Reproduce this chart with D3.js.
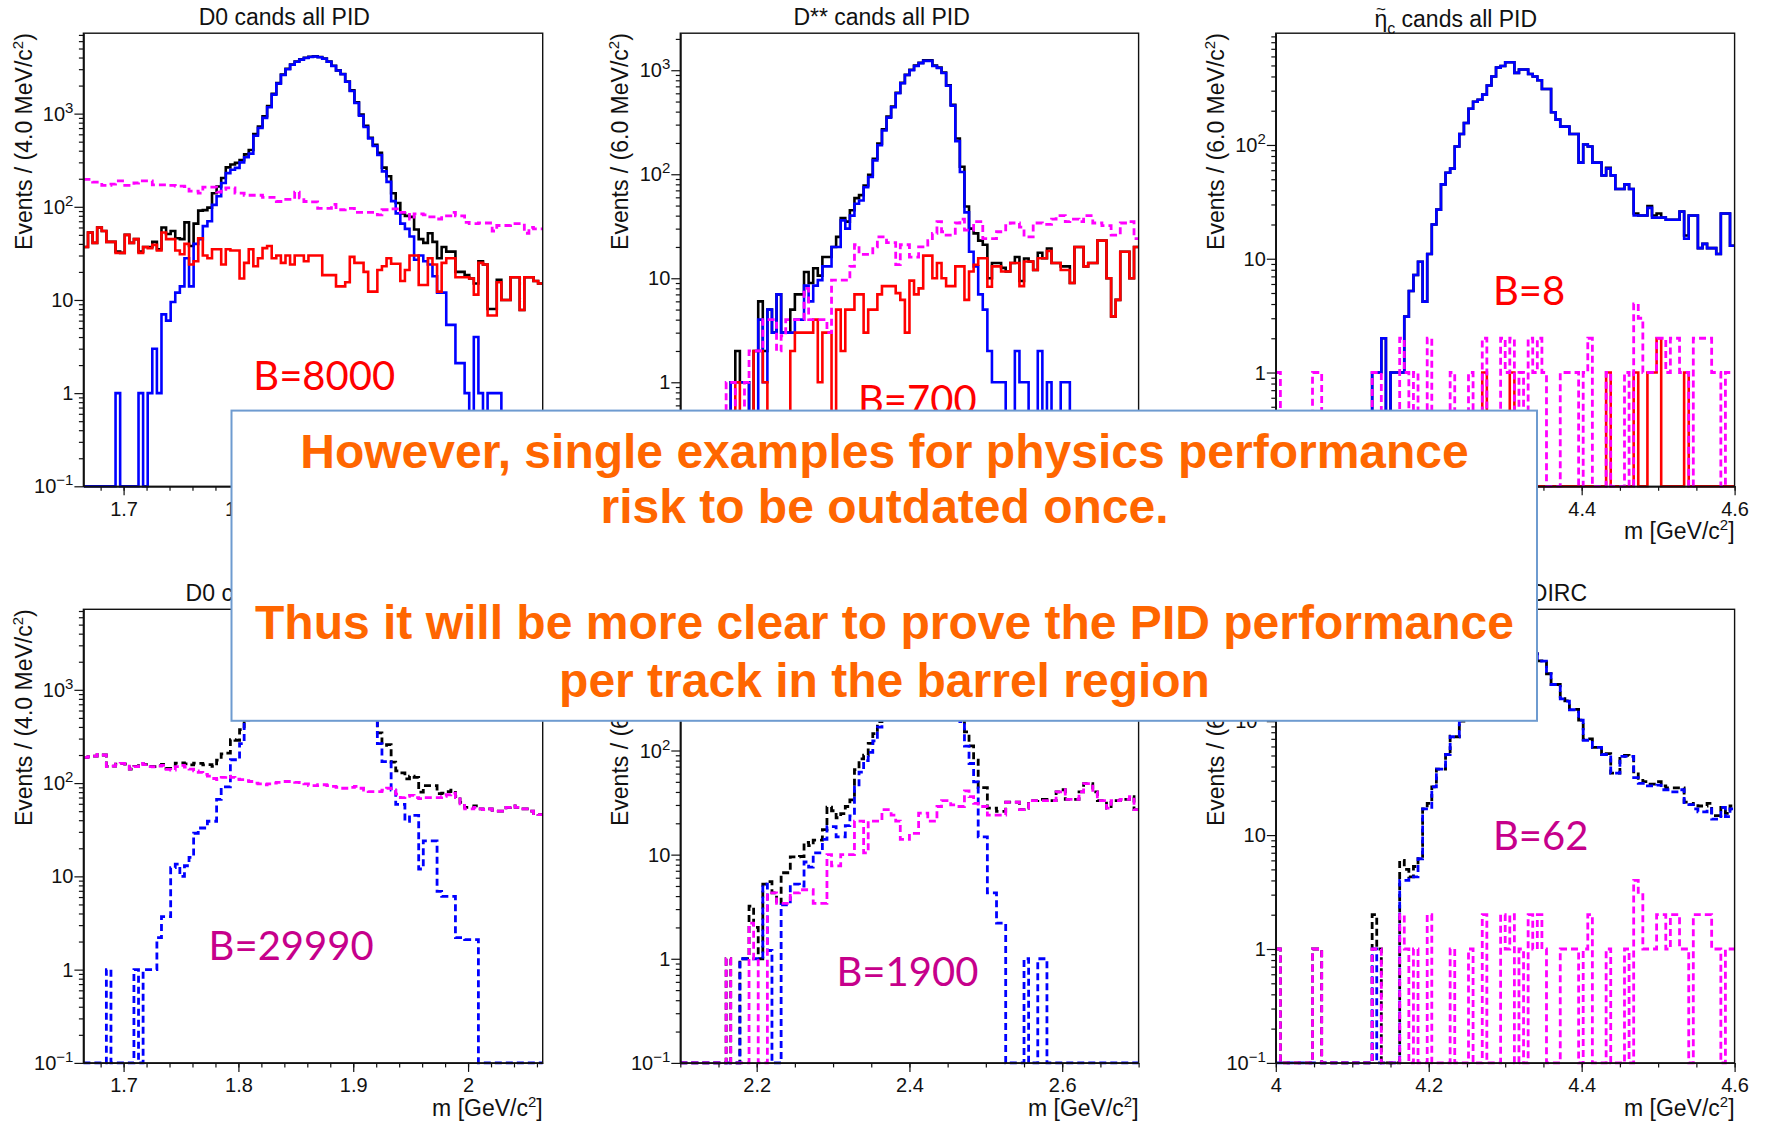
<!DOCTYPE html>
<html><head><meta charset="utf-8">
<script src="https://cdn.jsdelivr.net/npm/d3@7"></script>
<style>body{margin:0;background:#fff}svg{display:block}</style>
</head><body>
<svg id="c" width="1765" height="1124"></svg>
<script>
// ---------------- DATA (100 bins per histogram) ----------------
// D0, all PID
const d0AllTotal = [37,53,41,60,55,42,42,33,32,50, 41,45,33,37,37,42,35,60,51,55, 46,45,68,38,66,91,92,98,140,165, 204,265,284,296,317,365,407,602,728,936, 1208,1628,2130,2625,3030,3374,3630,3830,3976,4080, 4130,4060,3898,3618,3268,2914,2664,2215,1779,1325, 975,740,552,462,381,263,213,140,110,85, 80,78,57,45,41,52,42,28,37,33, 33,20,20,18.5,17,15,26,24,8,8, 16.5,10,10,17.5,17.5,7.8,17.5,17.5,16,15];
const d0AllSignal = [0,0,0,0,0,0,0,1,0,0, 0,0,1,0,1,3,1,7,6,9.5, 12,14,28,14,40,45,62,70,105,130, 180,230,250,262,300,340,372,579,700,900, 1170,1600,2100,2600,3000,3350,3600,3800,3950,4050, 4100,4030,3880,3600,3250,2900,2650,2200,1750,1300, 950,720,540,450,360,240,185,115,85,66, 58,48,27,30,26,24,18,12,12,5.4, 5.4,2.1,2.1,1,0,4,1,0,1,1, 1,0,0,0,0,0,0,0,0,0];
const d0AllPidBkg = [37,53,41,60,55,42,42,32,32,50, 41,45,32,37,36,39,34,53,45,45, 34,31,40,24,26,46,30,28,35,35, 24,35,34,34,17,25,35,23,28,36, 38,28,30,25,30,24,30,30,26,30, 30,30,18.5,18.5,18.5,14,14,15.5,29,25, 25,20,12.3,12.3,21,23,28,24.5,24.5,16, 21,30,30,14.5,14.5,28,24,12.3,25,28, 28,17.5,17.5,17.5,17,11.4,25,24,6.8,6.8, 15.5,10,10,17.5,17.5,7.8,17.5,17.5,16,15];
const d0AllNoPidBkg = [197,197,184,184,170,170,175,190,190,170, 170,180,190,190,190,172,172,172,170,170, 167,167,165,147,147,140,163,163,163,144, 154,160,160,140,140,133,133,133,133,126, 126,126,114,120,120,120,144,125,114,113, 113,96,96,96,106,93,93,96,96,87, 87,87,87,87,82,93,93,95,95,87, 87,74,84,84,82,78,78,74,80,80, 87,80,80,68,66,66,67,67,67,55, 63,63,63,66,66,66,52,60,58,58];
// D0, barrel DIRC
const d0DircTotal = [189,192,195,203,200,151,152,160,163,160, 141,151,163,159,151,150,154,159,144,150, 164,165,161,157,164,163,157,158,151,176, 206,210,293,288,374,579,664,750,898,1096, 1348,1750,2252,2754,3154,3504,3752,3951,4098,4194, 4244,4176,3996,3744,3392,3040,2738,2288,1840,1392, 1038,834,681,541,346,254,258,168,135,129, 111,119,115,80,94,94,94,77,78,81, 84,72,62,55,55,57,53,52,53,51, 50,50,55,57,55,53,53,50,47,46];
const d0DircSignal = [0,0,0,0,0,1,0,0,0,0, 0,1,0,1,1,1,2.2,3.7,3.7,12.4, 13.5,10,13,16,29,33,33,39,39,67, 91,91,178,178,265,473,560,650,800,1000, 1250,1650,2150,2650,3050,3400,3650,3850,4000,4100, 4150,4080,3900,3650,3300,2950,2650,2200,1750,1300, 950,750,600,460,265,170,170,84,59,59, 39,45,45,12,24,24,24,6.9,6.1,6.1, 6.1,2.2,2.2,2.1,2.1,2.1,0,0,0,0, 0,0,0,0,0,0,0,0,0,0];
const d0DircNoPidBkg = [189,192,195,203,200,150,152,160,163,160, 141,150,163,158,150,149,152,155,140,138, 150,155,148,141,135,130,124,119,112,109, 115,119,115,110,109,106,104,100,98,96, 98,100,102,104,104,104,102,101,98,94, 94,96,96,94,92,90,88,88,90,92, 88,84,81,81,81,84,88,84,76,70, 72,74,70,68,70,70,70,70,72,75, 78,70,60,53,53,55,53,52,53,51, 50,50,55,57,55,53,53,50,47,46];
// D**, all PID
const dssAllTotal = [0,0,0,0,0,0,0,0,0,0, 0,1,2,1,1,0,2,6,2,5, 3,7,3,3,5,7,7,11.5,9,12.5, 10.6,16,16,20,25,38,35,45,59,63, 78,99,141,197,271,358,448,607,756,903, 1010,1107,1178,1247,1247,1110,1064,950,718,465, 221,118,49,30,27,23,21,10,14,14, 12.6,11.6,14,16,9.4,15.5,14.5,12,17.6,15.6, 19.3,14,14,13,13,9,20,20,13,14, 14,23,23,10,4.3,6.2,18,18,10,20];
const dssAllSignal = [0,0,0,0,0,0,0,0,0,0, 0,1,1,1,1,0,0,4,1,5, 3,7,3,3,3,4,4,8.5,6,8.5, 9.6,13,13,20,20,36,30,40,52,56, 75,94,136,190,263,350,440,600,750,900, 1000,1100,1170,1230,1230,1100,1050,940,710,457, 208,105,43,18,13,7,5,2,1,1, 1,0,0,2,1,1,0,0,2,0, 1,0,0,1,1,0,0,0,0,0, 0,0,0,0,0,0,0,0,0,0];
const dssAllPidBkg = [0,0,0,0,0,0,0,0,0,0, 0,0,1,0,0,0,2,2,1,0, 0,0,0,0,2,3,3,3,3,4, 1,3,3,0,5,2,5,5,7,7, 3,5,5,7,8.4,8.4,8.4,7.2,6.2,3, 9.5,7,8,16.5,16.5,10,14,10,8.4,8.4, 13,13,6.2,11.6,13.5,15.6,15.6,8.3,13,13, 11.6,11.6,14,14,8.4,14.5,14.5,12,15.6,15.6, 18.3,14,14,12,12,9,20,20,13,14, 14,23,23,10,4.3,6.2,18,18,10,20];
const dssAllNoPidBkg = [0,0,0,0,0,0,0,0,0,0, 1,1,0,0,1,2,2,2,4,4, 4,2,2.8,4,4,4,4,8,4,4, 4,4,3,9.6,9.6,9.6,9.6,13,21,17, 17,17,20,25,25,22,22,13.5,21,21, 16,16,20,20,23,27,35,28,26,26, 34,37,29,29,35,35,24,24,24,28, 28,32,34,34,31,25,25,34,34,33, 33,37,40,40,35,37,37,35,40,40, 34,34,32,32,26,26,34,34,35,24];
// D**, barrel DIRC
const dssDircTotal = [0,0,0,0,0,0,0,0,0,0, 1,0,0,1,1,3.2,2,1,5.2,5.5, 4.3,3.4,6.7,6.7,9.5,9.5,9.6,13.1,12.2,13.8, 13.8,17.4,28.6,26.4,22.6,24.8,29,33.6,65.5,83, 90,117,145,189,277,367,464,621,764,914, 1016,1116,1195,1255,1251,1121,1079,973,743,487, 329,219,151,111,81,44,44,28,28,26, 26,32,32,32,27,28,33,33,34,34, 33,33,40,42,34,34,34,40,48,48, 40,33,33,28,33,33,34,34,36,27];
const dssDircSignal = [0,0,0,0,0,0,0,0,0,0, 0,0,0,1,1,1,1,1,5.2,1.2, 0,0,3.3,3.3,5.2,5.2,5,8.5,7.6,10.4, 10.4,14,18.6,18.6,14.8,14.8,19,23.6,44.5,62, 80,96,124,168,250,340,440,600,750,900, 1000,1100,1170,1230,1230,1100,1050,940,710,457, 300,190,110,75,50,14.8,14.8,4.3,4.3,2.2, 2.2,0,0,0,0,1,0,0,1,1, 0,0,0,0,0,0,0,0,0,0, 0,0,0,0,0,0,0,0,0,0];
const dssDircNoPidBkg = [0,0,0,0,0,0,0,0,0,0, 1,0,0,0,0,2.2,1,0,0,4.3, 4.3,3.4,3.4,3.4,4.3,4.3,4.6,4.6,4.6,3.4, 3.4,3.4,10,7.8,7.8,10,10,10,21,21, 10.4,21,21,21,27,27,24,21,14,14, 16,16,25,25,21,21,29,33,33,30, 29,29,41,36,31,29,29,24,24,24, 24,32,32,32,27,27,33,33,33,33, 33,33,40,42,34,34,34,40,48,48, 40,33,33,28,33,33,34,34,36,27];
// eta_c~, all PID
const etaAllTotal = [0,0,0,0,0,0,0,0,0,0, 0,0,0,0,0,0,0,0,0,0, 0,1,1,2,0,1,1,1,3.1,5.2, 7.2,9.4,4.2,11,20,27,45,57,62,97, 125,156,208,240,250,278,333,400,478,495, 533,534,430,460,460,420,400,370,310,310, 194,167,145,145,125,125,70,101,97,70, 70,54,63,54,41,41,45,41,25,24, 24,29,24,25,23,22,22,22,26,16, 24,24,12.4,13.5,12.4,12.4,11,25,25,13];
const etaAllSignal = [0,0,0,0,0,0,0,0,0,0, 0,0,0,0,0,0,0,0,0,0, 0,1,1,2,0,1,1,1,3.1,5.2, 7.2,9.4,4.2,11,20,27,45,57,62,97, 125,156,208,240,250,277,333,400,478,495, 533,533,430,460,460,420,400,370,310,310, 194,167,145,145,125,125,70,101,97,70, 70,54,62,54,41,41,45,41,24,24, 24,28,23,23,23,22,22,22,26,15, 24,24,12.4,13.5,12.4,12.4,11,25,25,13];
const etaAllPidBkg = [0,0,0,0,0,0,0,0,0,0, 0,0,0,0,0,0,0,0,0,0, 0,0,0,0,0,0,0,0,0,0, 0,0,0,0,0,0,0,0,0,0, 0,0,0,0,0,1,0,0,0,0, 0,1,0,0,0,0,0,0,0,0, 0,0,0,0,0,0,0,0,0,0, 0,0,1,0,0,0,0,0,1,0, 0,1,1,2,0,0,0,0,0,1, 0,0,0,0,0,0,0,0,0,0];
const etaNoPidBkg = [1,0,0,0,0,0,0,0,1,1, 0,0,0,0,0,0,0,0,0,0, 0,1,1,0,0,0,0,2,1,0, 1,0,0,2,0,0,0,0,1,0, 0,0,1,0,0,2,0,0,0,2, 1,2,0,1,0,2,1,2,1,0, 0,0,1,1,1,1,0,1,2,0, 0,0,1,0,0,0,1,0,4,3, 1,1,1,2,2,1,2,2,1,1, 0,2,2,2,2,1,1,0,1,1];
// eta_c~, barrel DIRC
const etaDircTotal = [1,0,0,0,0,0,0,0,1,1, 0,0,0,0,0,0,0,0,0,0, 0,2,1,0,0,0,0,6,5,4.3, 5.3,6.2,17,19,26.5,38,38,51,74,73, 100,140,191,250,300,362,420,480,530,562, 571,562,530,501,470,432,391,339,338,261, 210,210,158,151,127,127,102,69,70,59, 59,51,52,35,35,49,50,49,36,31.5, 29.5,28,28,29.5,27,26,26,26,26,19.5, 18.5,19,18,18,19,14.8,14.8,17.5,15.5,18];
const etaDircSignal = [0,0,0,0,0,0,0,0,0,0, 0,0,0,0,0,0,0,0,0,0, 0,1,0,0,0,0,0,4,4,4.3, 4.3,6.2,17,17,26.5,38,38,51,73,73, 100,140,190,250,300,360,420,480,530,560, 570,560,530,500,470,430,390,337,337,261, 210,210,157,150,126,126,102,68,68,59, 59,51,51,35,35,49,49,49,32,28.5, 28.5,27,27,27.5,25,25,24,24,25,18.5, 18.5,17,16,16,17,13.8,13.8,17.5,14.5,17];

// axis ticks / labels
const d0XMajor = [1.7,1.8,1.9,2.0], d0XLabels = ["1.7","1.8","1.9","2"];
const dssXMajor = [2.2,2.4,2.6], dssXLabels = ["2.2","2.4","2.6"];
const etaXMajor = [4.0,4.2,4.4,4.6], etaXLabels = ["4","4.2","4.4","4.6"];
const bLabels = ["B=8000","B=700","B=8","B=29990","B=1900","B=62"];
const noteLines = ["However, single examples for physics performance","risk to be outdated once.","Thus it will be more clear to prove the PID performance","per track in the barrel region"];

// ---------------- LAYOUT ----------------
const svg = d3.select('#c');
const FONT = '"Liberation Sans", Arial, Helvetica, sans-serif';
const rows = [{top:33.2,bottom:486.3},{top:609.3,bottom:1062.9}];
const cols = [
  {left:83.4, right:542.7, xlo:1.665, xhi:2.065, ymax:7300, bw:"4.0", ytx:31.5, xMajor:d0XMajor, xLabels:d0XLabels, xMinor:d3.range(84,104).map(k=>k*0.02), yTicks:[0.1,1,10,100,1000]},
  {left:680.3, right:1138.6, xlo:2.1, xhi:2.7, ymax:2270, bw:"6.0", ytx:627.6, xMajor:dssXMajor, xLabels:dssXLabels, xMinor:d3.range(42,55).map(k=>k*0.05), yTicks:[0.1,1,10,100,1000]},
  {left:1275.8, right:1734.6, xlo:4.0, xhi:4.6, ymax:960, bw:"6.0", ytx:1224, xMajor:etaXMajor, xLabels:etaXLabels, xMinor:d3.range(80,93).map(k=>k*0.05), yTicks:[0.1,1,10,100]}
];
const RED='#ff0000', BLUE='#0000ff', MAG='#ff00ff', BLK='#000000';
const panels = [
  {c:0,r:0,series:[[d0AllTotal,BLK,0],[d0AllSignal,BLUE,0],[d0AllPidBkg,RED,0],[d0AllNoPidBkg,MAG,1]]},
  {c:1,r:0,series:[[dssAllTotal,BLK,0],[dssAllSignal,BLUE,0],[dssAllPidBkg,RED,0],[dssAllNoPidBkg,MAG,1]]},
  {c:2,r:0,series:[[etaAllTotal,BLK,0],[etaAllSignal,BLUE,0],[etaAllPidBkg,RED,0],[etaNoPidBkg,MAG,1]]},
  {c:0,r:1,series:[[d0DircTotal,BLK,1],[d0DircSignal,BLUE,1],[d0DircNoPidBkg,MAG,1]]},
  {c:1,r:1,series:[[dssDircTotal,BLK,1],[dssDircSignal,BLUE,1],[dssDircNoPidBkg,MAG,1]]},
  {c:2,r:1,series:[[etaDircTotal,BLK,1],[etaDircSignal,BLUE,1],[etaNoPidBkg,MAG,1]]}
];

panels.forEach((p,pi)=>{
  const C = cols[p.c], R = rows[p.r];
  const g = svg.append('g');
  const x = d3.scaleLinear().domain([C.xlo,C.xhi]).range([C.left,C.right]);
  const y = d3.scaleLog().domain([0.1,C.ymax]).range([R.bottom,R.top]);
  const cid = 'clip'+pi;
  svg.append('clipPath').attr('id',cid).append('rect')
    .attr('x',C.left-2).attr('y',R.top).attr('width',C.right-C.left+4).attr('height',R.bottom-R.top+2);
  const n = 100, bw = (C.xhi-C.xlo)/n;
  const line = d3.line().x(d=>x(d[0])).y(d=>y(Math.max(d[1],0.1))).curve(d3.curveStepAfter);
  p.series.forEach(([data,color,dash])=>{
    const pts = data.map((v,i)=>[C.xlo+i*bw, v]);
    pts.push([C.xhi, data[n-1]]);
    g.append('path').attr('clip-path',`url(#${cid})`).attr('d',line(pts))
      .attr('fill','none').attr('stroke',color).attr('stroke-width',dash?2.8:2.6)
      .attr('stroke-linejoin','miter').attr('stroke-dasharray',dash?'7,4':null);
  });
  // frame
  g.append('rect').attr('x',C.left).attr('y',R.top).attr('width',C.right-C.left).attr('height',R.bottom-R.top)
    .attr('fill','none').attr('stroke','#111').attr('stroke-width',1.4);
  // x axis
  const xa1 = g.append('g').attr('transform',`translate(0,${R.bottom})`)
    .call(d3.axisBottom(x).tickValues(C.xMinor).tickSize(4.5).tickSizeOuter(0).tickFormat(''));
  const xa2 = g.append('g').attr('transform',`translate(0,${R.bottom})`)
    .call(d3.axisBottom(x).tickValues(C.xMajor).tickSize(9).tickSizeOuter(0).tickPadding(6.3).tickFormat((d,i)=>C.xLabels[i]));
  // y axis
  const yMinor = [];
  for(let e=-1;e<=4;e++) for(let m=2;m<=9;m++){ const v=m*Math.pow(10,e); if(v<C.ymax) yMinor.push(v); }
  const ya1 = g.append('g').attr('transform',`translate(${C.left},0)`)
    .call(d3.axisLeft(y).tickValues(yMinor).tickSize(4.5).tickSizeOuter(0).tickFormat(''));
  const ya2 = g.append('g').attr('transform',`translate(${C.left},0)`)
    .call(d3.axisLeft(y).tickValues(C.yTicks).tickSize(9).tickSizeOuter(0).tickFormat(''));
  [xa1,xa2,ya1,ya2].forEach(a=>{
    a.attr('font-family',FONT).attr('font-size',20);
    a.selectAll('line').attr('stroke','#111').attr('stroke-width',1.2);
    a.select('.domain').attr('stroke','#111').attr('stroke-width',1.4);
    a.selectAll('text').attr('fill','#111');
  });
  // y tick labels
  C.yTicks.forEach(v=>{
    const t = g.append('text').attr('x',C.left-10).attr('y',y(v)).attr('dy','0.35em')
      .attr('text-anchor','end').attr('font-family',FONT).attr('font-size',20).attr('fill','#111');
    const e = Math.round(Math.log10(v));
    t.append('tspan').text(e===0?'1':'10');
    if(e<0 || e>1) t.append('tspan').attr('font-size',15).attr('dy',-8).text(e<0?'\u2212'+(-e):String(e));
  });
  // y title
  const yt = g.append('text').attr('transform',`translate(${C.ytx},${R.top}) rotate(-90)`)
    .attr('text-anchor','end').attr('font-family',FONT).attr('font-size',23).attr('fill','#111');
  yt.append('tspan').text(`Events / (${C.bw} MeV/c`);
  yt.append('tspan').attr('font-size',15).attr('dy',-9).text('2');
  yt.append('tspan').attr('dy',9).text(')');
  // x title
  const xt = g.append('text').attr('x',C.right).attr('y',R.bottom+53).attr('text-anchor','end')
    .attr('font-family',FONT).attr('font-size',23).attr('fill','#111');
  xt.append('tspan').text('m [GeV/c');
  xt.append('tspan').attr('font-size',15).attr('dy',-9).text('2');
  xt.append('tspan').attr('dy',9).text(']');
});

// titles
function title(xp, yp, anchor, parts){
  const t = svg.append('text').attr('x',xp).attr('y',yp).attr('text-anchor',anchor)
    .attr('font-family',FONT).attr('font-size',23).attr('fill','#111');
  parts(t);
  return t;
}
title(284.3,25,'middle',t=>t.text('D0 cands all PID'));
title(881.6,25,'middle',t=>t.text('D** cands all PID'));
title(1374.4,27,'start',t=>{ t.append('tspan').text('\u03B7'); t.append('tspan').attr('font-size',16).attr('dy',7).text('c'); t.append('tspan').attr('dy',-7).text(' cands all PID'); });
svg.append('text').attr('x',1381).attr('y',15).attr('text-anchor','middle')
  .attr('font-family',FONT).attr('font-size',17).attr('fill','#111').text('~');
title(185.6,601,'start',t=>t.text('D0 cands barrel DIRC'));
title(881.6,601,'middle',t=>t.text('D** cands barrel DIRC'));
title(1587,601,'end',t=>{ t.append('tspan').text('\u03B7'); t.append('tspan').attr('font-size',16).attr('dy',7).text('c'); t.append('tspan').attr('dy',-7).text(' cands barrel DIRC'); });

// B labels
const bPos = [[253.3,390,'#ff0000'],[858,414,'#ff0000'],[1493,305,'#ff0000'],[208.6,960,'#c6008b'],[836.5,985.5,'#c6008b'],[1493,849.6,'#c6008b']];
bLabels.forEach((s,i)=>{
  svg.append('text').attr('x',bPos[i][0]).attr('y',bPos[i][1]).attr('font-family','Lato, "Open Sans", sans-serif')
    .attr('font-size',40).attr('fill',bPos[i][2]).text(s);
});

// overlay note box
svg.append('rect').attr('x',231.5).attr('y',410.6).attr('width',1305.5).attr('height',310.2)
  .attr('fill','#fff').attr('stroke','#6e9bd0').attr('stroke-width',2);
const noteY = [467.7,523,639,697];
noteLines.forEach((s,i)=>{
  svg.append('text').attr('x',884.5).attr('y',noteY[i]).attr('text-anchor','middle')
    .attr('font-family',FONT).attr('font-weight','bold').attr('font-size',48).attr('fill','#ff6600').text(s);
});
</script>
</body></html>
